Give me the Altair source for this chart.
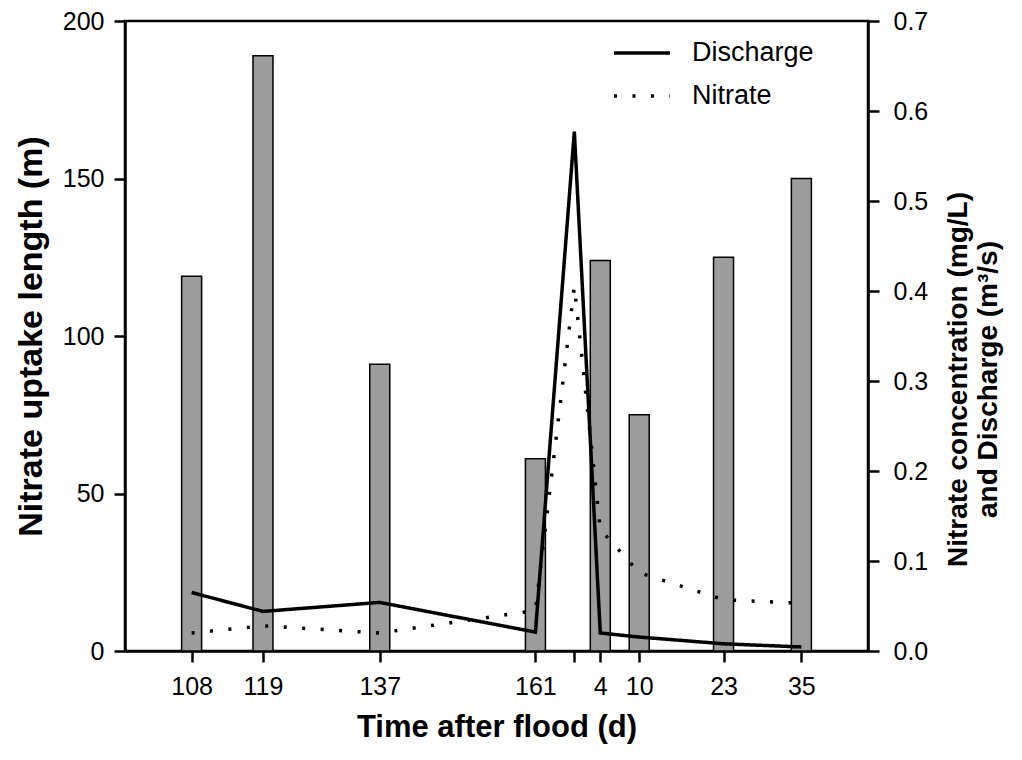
import altair as alt
import pandas as pd

# ---- data ----
# positions on a continuous day axis (flood occurs at day 167 of the record)
sample_days = [108, 119, 137, 161, 167, 171, 177, 190, 202]
x_tick_labels = ["108", "119", "137", "161", "", "4", "10", "23", "35"]

bar_days = [108, 119, 137, 161, 171, 177, 190, 202]
uptake_length = [119, 189, 91, 61, 124, 75, 125, 150]

discharge = [0.065, 0.044, 0.054, 0.021, 0.577, 0.020, 0.0155, 0.008, 0.0045]
nitrate = [0.020, 0.028, 0.020, 0.045, 0.405, 0.135, 0.087, 0.057, 0.053]

series_names = ["Discharge", "Nitrate"]

bars_df = pd.DataFrame({"day": bar_days, "uptake": uptake_length})
lines_df = pd.DataFrame(
    {
        "day": sample_days * 2,
        "value": discharge + nitrate,
        "series": [series_names[0]] * len(sample_days) + [series_names[1]] * len(sample_days),
    }
)

label_map = "{" + ",".join(f"'{d}':'{l}'" for d, l in zip(sample_days, x_tick_labels)) + "}"
label_expr = f"{label_map}[''+datum.value]"

FONT = "Liberation Sans"

x_enc = alt.X(
    "day:Q",
    scale=alt.Scale(domain=[98.5, 211.5], nice=False, zero=False),
    axis=alt.Axis(
        values=sample_days,
        labelExpr=label_expr,
        title="Time after flood (d)",
        titleFontSize=31,
        labelPadding=12,
        titlePadding=13,
    ),
)

bars = alt.Chart(bars_df).mark_bar(
    size=20, fill="#9c9c9c", stroke="black", strokeWidth=1.5
).encode(
    x=x_enc,
    y=alt.Y(
        "uptake:Q",
        scale=alt.Scale(domain=[0, 200], nice=False),
        axis=alt.Axis(
            values=[0, 50, 100, 150, 200],
            title="Nitrate uptake length (m)",
            titleFontSize=34,
            labelPadding=10,
            titlePadding=14,
        ),
    ),
)

lines = alt.Chart(lines_df).mark_line(color="black", strokeWidth=3.5).encode(
    x=alt.X("day:Q"),
    y=alt.Y(
        "value:Q",
        scale=alt.Scale(domain=[0, 0.7], nice=False),
        axis=alt.Axis(
            orient="right",
            values=[0, 0.1, 0.2, 0.3, 0.4, 0.5, 0.6, 0.7],
            format=".1f",
            title=["Nitrate concentration (mg/L)", "and Discharge (m³/s)"],
            titleAngle=270,
            titleFontSize=28,
            titleY=358,
            labelPadding=14,
            titlePadding=15,
        ),
    ),
    strokeDash=alt.StrokeDash(
        "series:N",
        scale=alt.Scale(domain=series_names, range=[[1, 0], [3, 15.5]]),
        legend=alt.Legend(
            title=None,
            orient="none",
            legendX=487,
            legendY=2,
            padding=0,
            symbolType="stroke",
            symbolSize=3136,
            symbolStrokeWidth=3.5,
            symbolStrokeColor="black",
            labelFont=FONT,
            labelFontSize=27,
            labelColor="black",
            labelOffset=20,
            rowPadding=-20,
        ),
    ),
)

chart = (
    alt.layer(bars, lines)
    .resolve_scale(y="independent")
    .properties(
        width=743,
        height=630,
        autosize=alt.AutoSizeParams(type="none"),
        padding={"left": 117, "top": 13, "right": 138, "bottom": 95},
        background="white",
    )
    .configure_view(stroke="black", strokeWidth=2.5)
    .configure_axis(
        grid=False,
        domainColor="black",
        domainWidth=2.5,
        tickColor="black",
        tickWidth=2.5,
        tickSize=11,
        labelFont=FONT,
        labelFontSize=25,
        labelColor="black",
        titleFont=FONT,
        titleFontWeight="bold",
        titleColor="black",
    )
)

chart.save("out.html", embed_options={"renderer": "svg", "actions": False})
